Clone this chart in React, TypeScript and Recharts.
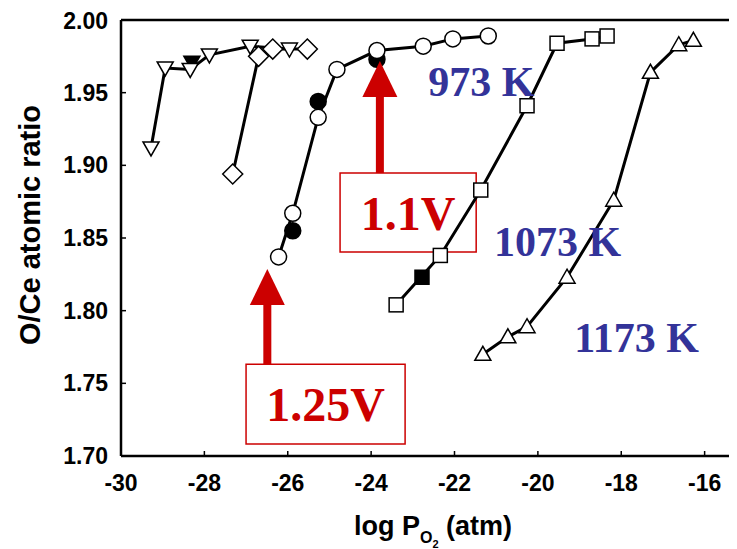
import { ComposedChart, Line, Scatter, XAxis, YAxis, ReferenceLine, ReferenceArea, ReferenceDot } from 'recharts';

// log PO2 (atm) and O/Ce ratio per series
const downTriX = [-29.28, -28.94, -28.34, -27.88, -26.9, -25.96];
const downTriY = [1.912, 1.967, 1.966, 1.976, 1.982, 1.98];
const downTriFilledX = [-28.3];
const downTriFilledY = [1.971];

const diamondX = [-27.32, -26.7, -26.36, -25.53];
const diamondY = [1.894, 1.975, 1.98, 1.98];

const circleX = [-26.22, -25.88, -25.27, -24.82, -23.86, -22.75, -22.04, -21.19];
const circleY = [1.837, 1.867, 1.933, 1.966, 1.979, 1.982, 1.987, 1.989];
const circleFilledX = [-25.88, -25.27, -23.86];
const circleFilledY = [1.855, 1.944, 1.973];

const squareX = [-23.4, -22.34, -21.37, -20.26, -19.54, -18.7, -18.34];
const squareY = [1.804, 1.838, 1.883, 1.941, 1.984, 1.987, 1.989];
const squareFilledX = [-22.78];
const squareFilledY = [1.823];

const upTriX = [-21.32, -20.72, -20.26, -19.3, -18.18, -17.3, -16.62, -16.27];
const upTriY = [1.77, 1.782, 1.789, 1.823, 1.876, 1.964, 1.983, 1.986];

const xTicks = [-30, -28, -26, -24, -22, -20, -18, -16];
const yTicks = [1.7, 1.75, 1.8, 1.85, 1.9, 1.95, 2.0];

const toPoints = (xs: number[], ys: number[]) => xs.map((x, i) => ({ x, y: ys[i] }));

const RED = '#cc0000';
const BLUE = '#333399';
const SANS = '"Liberation Sans", Arial, sans-serif';
const SERIF = '"Liberation Serif", "Times New Roman", serif';

type Shape = 'circle' | 'square' | 'up' | 'down' | 'diamond';

function marker(shape: Shape, cx: number, cy: number, fill: string, key?: any) {
    const s = { fill, stroke: '#000', strokeWidth: 1.5 };
    switch (shape) {
        case 'circle':
            return <circle key={key} cx={cx} cy={cy} r={8} {...s} />;
        case 'square':
            return <rect key={key} x={cx - 7} y={cy - 7} width={14} height={14} {...s} />;
        case 'up':
            return <polygon key={key} points={`${cx - 8},${cy + 6} ${cx + 8},${cy + 6} ${cx},${cy - 8}`} {...s} />;
        case 'down':
            return <polygon key={key} points={`${cx - 8},${cy - 6} ${cx + 8},${cy - 6} ${cx},${cy + 8}`} {...s} />;
        default:
            return <polygon key={key} points={`${cx},${cy - 10} ${cx + 10},${cy} ${cx},${cy + 10} ${cx - 10},${cy}`} {...s} />;
    }
}

const openDot = (shape: Shape) => (p: any) => marker(shape, p.cx, p.cy, '#fff', p.index);
const filledShape = (shape: Shape) => (p: any) => marker(shape, p.cx, p.cy, '#000');

const boxLabel = (text: string) => (p: any) => {
    const { x, y, width, height } = p.viewBox;
    return (
        <text x={x + width / 2} y={y + height / 2 + 17} textAnchor="middle" fill={RED}
            fontFamily={SERIF} fontWeight={700} fontSize={48}>{text}</text>
    );
};

const arrowHead = (p: any) => (
    <polygon points={`${p.cx},${p.cy} ${p.cx + 17.5},${p.cy + 36} ${p.cx - 17.5},${p.cy + 36}`} fill={RED} />
);

const tempLabel = (text: string) => (p: any) => (
    <text x={p.cx} y={p.cy} fill={BLUE} fontFamily={SERIF} fontWeight={700} fontSize={42}>{text}</text>
);

export default function App() {
    return (
        <div style={{ width: 729, height: 541, overflow: 'hidden' }}>
            <ComposedChart width={800} height={541} margin={{ top: 12, right: 20, bottom: 33, left: 0 }}>
                <XAxis
                    type="number"
                    dataKey="x"
                    domain={[-30, -14]}
                    ticks={xTicks}
                    allowDataOverflow
                    height={60}
                    tickSize={-5}
                    tickMargin={24}
                    axisLine={{ stroke: '#000', strokeWidth: 2.5 }}
                    tickLine={{ stroke: '#000', strokeWidth: 1.5 }}
                    tick={{ fontSize: 23, fontWeight: 700, fill: '#000', fontFamily: SANS }}
                    label={{
                        content: () => (
                            <text x={425} y={527} textAnchor="middle" fill="#000" fontFamily={SANS} fontWeight={700} fontSize={27}>
                                log P
                                <tspan fontSize={16} dy={8}>O</tspan>
                                <tspan fontSize={11} dy={5}>2</tspan>
                                <tspan fontSize={27} dy={-13}> (atm)</tspan>
                            </text>
                        ),
                    }}
                />
                <YAxis
                    type="number"
                    dataKey="y"
                    domain={[1.7, 2.0]}
                    ticks={yTicks}
                    width={113}
                    tickSize={-5}
                    tickMargin={18}
                    tickFormatter={(v: number) => v.toFixed(2)}
                    axisLine={{ stroke: '#000', strokeWidth: 2.5 }}
                    tickLine={{ stroke: '#000', strokeWidth: 1.5 }}
                    tick={{ fontSize: 23, fontWeight: 700, fill: '#000', fontFamily: SANS }}
                    label={{
                        content: () => (
                            <text transform="translate(32,217) rotate(-90)" textAnchor="middle" fill="#000"
                                fontFamily={SANS} fontWeight={700} fontSize={29}>O/Ce atomic ratio</text>
                        ),
                    }}
                />
                <ReferenceLine y={2.0} stroke="#000" strokeWidth={2.5} />

                <Scatter data={toPoints(downTriFilledX, downTriFilledY)} shape={filledShape('down')} isAnimationActive={false} />
                <Scatter data={toPoints(circleFilledX, circleFilledY)} shape={filledShape('circle')} isAnimationActive={false} />
                <Scatter data={toPoints(squareFilledX, squareFilledY)} shape={filledShape('square')} isAnimationActive={false} />

                <Line data={toPoints(downTriX, downTriY)} dataKey="y" stroke="#000" strokeWidth={3} dot={openDot('down')} activeDot={false} isAnimationActive={false} />
                <Line data={toPoints(diamondX, diamondY)} dataKey="y" stroke="#000" strokeWidth={3} dot={openDot('diamond')} activeDot={false} isAnimationActive={false} />
                <Line data={toPoints(circleX, circleY)} dataKey="y" stroke="#000" strokeWidth={3} dot={openDot('circle')} activeDot={false} isAnimationActive={false} />
                <Line data={toPoints(squareX, squareY)} dataKey="y" stroke="#000" strokeWidth={3} dot={openDot('square')} activeDot={false} isAnimationActive={false} />
                <Line data={toPoints(upTriX, upTriY)} dataKey="y" stroke="#000" strokeWidth={3} dot={openDot('up')} activeDot={false} isAnimationActive={false} />

                {/* voltage annotations */}
                <ReferenceLine segment={[{ x: -26.49, y: 1.7632 }, { x: -26.49, y: 1.805 }]} stroke={RED} strokeWidth={8} />
                <ReferenceDot x={-26.49} y={1.8286} r={0} shape={arrowHead} />
                <ReferenceArea x1={-27.0} x2={-23.185} y1={1.7082} y2={1.7632} fill="#fff" fillOpacity={1}
                    stroke={RED} strokeWidth={1.5} label={{ content: boxLabel('1.25V') }} />

                <ReferenceLine segment={[{ x: -23.79, y: 1.8947 }, { x: -23.79, y: 1.948 }]} stroke={RED} strokeWidth={8} />
                <ReferenceDot x={-23.79} y={1.9718} r={0} shape={arrowHead} />
                <ReferenceArea x1={-24.745} x2={-21.48} y1={1.8403} y2={1.8947} fill="#fff" fillOpacity={0}
                    stroke={RED} strokeWidth={1.5} label={{ content: boxLabel('1.1V') }} />

                <ReferenceDot x={-22.63} y={1.9477} r={0} shape={tempLabel('973 K')} />
                <ReferenceDot x={-21.05} y={1.8376} r={0} shape={tempLabel('1073 K')} />
                <ReferenceDot x={-19.13} y={1.7717} r={0} shape={tempLabel('1173 K')} />
            </ComposedChart>
        </div>
    );
}
